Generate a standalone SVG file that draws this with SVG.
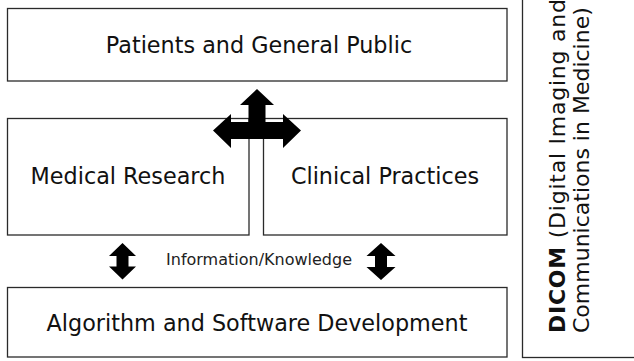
<svg xmlns="http://www.w3.org/2000/svg" width="634" height="361" viewBox="0 0 634 361">
  <style>
    .box { fill: #ffffff; stroke: #2a2a2a; stroke-width: 1.3; }
    .lbl { font-family: "DejaVu Sans", Verdana, sans-serif; font-size: 22.3px; fill: #111; text-anchor: middle; }
    .small { font-family: "DejaVu Sans", Verdana, sans-serif; font-size: 16px; fill: #222; text-anchor: middle; }
    .arrow { fill: #000; stroke: none; }
    .side { font-family: "DejaVu Sans", Verdana, sans-serif; font-size: 22px; fill: #111; }
  </style>
  <rect width="634" height="361" fill="#ffffff"/>

  <g id="dicom">
    <rect class="box" x="522.5" y="-2" width="120" height="359.5"/>
    <g transform="translate(565,333) rotate(-90)">
      <text class="side" x="0" y="0" textLength="334" lengthAdjust="spacing"><tspan font-weight="bold">DICOM</tspan> (Digital Imaging and</text>
      <text class="side" x="0" y="24">Communications in Medicine)</text>
    </g>
  </g>

  <g id="patients">
    <rect class="box" x="7.5" y="8.5" width="499.5" height="72.5"/>
    <text class="lbl" x="259" y="53">Patients and General Public</text>
  </g>

  <g id="research">
    <rect class="box" x="7.5" y="118.5" width="241.5" height="116.5"/>
    <text class="lbl" x="128" y="184">Medical Research</text>
  </g>

  <g id="clinical">
    <rect class="box" x="263.5" y="118.5" width="243.5" height="116.5"/>
    <text class="lbl" x="385" y="184">Clinical Practices</text>
  </g>

  <g id="algorithm">
    <rect class="box" x="7.5" y="287.5" width="499.5" height="69.5"/>
    <text class="lbl" x="257" y="331">Algorithm and Software Development</text>
  </g>

  <g id="connectors">
    <!-- three-way arrow joining the research/practice pair to the public -->
    <path class="arrow" d="M257,89 L274,105 L265.5,105 L265.5,122 L283,122 L283,114 L301,130.5 L283,148 L283,139 L231,139 L231,148 L213,130.5 L231,114 L231,122 L248.5,122 L248.5,105 L240,105 Z"/>
    <!-- two-way arrows to the algorithm layer -->
    <path class="arrow" d="M122.5,243 L136,256 L128.5,256 L128.5,266.5 L136,266.5 L122.5,279.5 L109,266.5 L116.5,266.5 L116.5,256 L109,256 Z"/>
    <path class="arrow" d="M381,243 L395.5,256 L387,256 L387,267 L395.5,267 L381,280 L366.5,267 L375,267 L375,256 L366.5,256 Z"/>
    <text class="small" x="259" y="265">Information/Knowledge</text>
  </g>
</svg>
